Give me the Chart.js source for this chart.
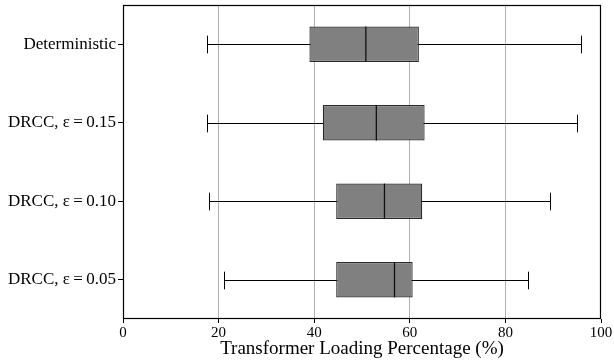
<!DOCTYPE html>
<html>
<head>
<meta charset="utf-8">
<script src="https://cdn.jsdelivr.net/npm/chart.js@4"></script>
<style>
  html, body { margin: 0; padding: 0; background: #fff; }
  #wrap { width: 614px; height: 360px; }
</style>
</head>
<body>
<div id="wrap"><canvas id="boxChart"></canvas></div>
<script>
// Box plot summary
const labels = ['Deterministic', 'DRCC, \u03b5\u2009=\u20090.15', 'DRCC, \u03b5\u2009=\u20090.10', 'DRCC, \u03b5\u2009=\u20090.05'];
const whiskerLow = [17.5, 17.5, 17.9, 21.2];
const q1 = [39.0, 41.8, 44.6, 44.6];
const median = [50.8, 53.0, 54.7, 56.8];
const q3 = [61.9, 63.1, 62.6, 60.6];
const whiskerHigh = [95.9, 95.0, 89.4, 84.7];
const xTicks = [0, 20, 40, 60, 80, 100];

// whiskers, caps, medians and the frame
const boxExtras = {
    id: 'boxExtras',
    beforeDatasetsDraw(chart) {
        const ctx = chart.ctx;
        const x = chart.scales.x;
        const y = chart.scales.y;
        const meta = chart.getDatasetMeta(0);
        ctx.save();
        ctx.strokeStyle = '#000';
        ctx.lineWidth = 1;
        labels.forEach((lab, i) => {
            const yc = Math.round(y.getPixelForValue(i)) + 0.5;
            const capH = meta.data[i].height / 2;
            const xl = Math.round(x.getPixelForValue(whiskerLow[i])) + 0.5;
            const xh = Math.round(x.getPixelForValue(whiskerHigh[i])) + 0.5;
            ctx.beginPath();
            ctx.moveTo(xl, yc); ctx.lineTo(xh, yc);
            ctx.moveTo(xl, yc - capH / 2); ctx.lineTo(xl, yc + capH / 2);
            ctx.moveTo(xh, yc - capH / 2); ctx.lineTo(xh, yc + capH / 2);
            ctx.stroke();
        });
        ctx.restore();
    },
    afterDatasetsDraw(chart) {
        const ctx = chart.ctx;
        const x = chart.scales.x;
        const y = chart.scales.y;
        const meta = chart.getDatasetMeta(0);
        ctx.save();
        ctx.strokeStyle = '#111';
        ctx.lineWidth = 1.3;
        labels.forEach((lab, i) => {
            const yc = y.getPixelForValue(i);
            const h = meta.data[i].height;
            const xm = x.getPixelForValue(median[i]);
            ctx.beginPath();
            ctx.moveTo(xm, yc - h / 2); ctx.lineTo(xm, yc + h / 2);
            ctx.stroke();
        });
        const a = chart.chartArea;
        ctx.strokeStyle = '#000';
        ctx.lineWidth = 1.2;
        ctx.strokeRect(Math.round(a.left) + 0.5, Math.round(a.top) + 0.5,
            Math.round(a.right - a.left) - 1, Math.round(a.bottom - a.top) - 1);
        ctx.restore();
    }
};

const ctx = document.getElementById('boxChart').getContext('2d');

new Chart(ctx, {
    type: 'bar',
    data: {
        labels: labels,
        datasets: [{
            label: 'IQR',
            data: labels.map((l, i) => [q1[i], q3[i]]),
            backgroundColor: '#808080',
            borderColor: '#2a2a2a',
            borderWidth: 1.2,
            borderSkipped: false,
            barPercentage: 0.45,
            categoryPercentage: 1.0
        }]
    },
    options: {
        indexAxis: 'y',
        responsive: true,
        maintainAspectRatio: false,
        animation: false,
        layout: { padding: { top: 5, right: 13, left: 0, bottom: 0 } },
        plugins: {
            legend: { display: false },
            tooltip: { enabled: false }
        },
        scales: {
            x: {
                type: 'linear',
                min: 0,
                max: 100,
                afterBuildTicks: (scale) => { scale.ticks = xTicks.map(v => ({ value: v })); },
                afterFit: (scale) => { scale.height = 41; },
                grid: {
                    color: (c) => (c.tick && (c.tick.value === 0 || c.tick.value === 100)) ? 'rgba(0,0,0,0)' : '#b0b0b0',
                    tickColor: '#000',
                    tickLength: 4
                },
                border: { display: false },
                ticks: {
                    color: '#000',
                    padding: 1,
                    font: { family: 'Liberation Serif', size: 15 }
                },
                title: {
                    display: true,
                    text: 'Transformer Loading Percentage (%)',
                    color: '#000',
                    padding: { top: 0, bottom: 0 },
                    font: { family: 'Liberation Serif', size: 19 }
                }
            },
            y: {
                afterFit: (scale) => {
                    scale.width = 123;
                    scale.paddingTop = 0;
                    scale.paddingBottom = 0;
                },
                grid: {
                    offset: false,
                    drawOnChartArea: false,
                    tickColor: '#000',
                    tickLength: 5
                },
                border: { display: false },
                ticks: {
                    color: '#000',
                    padding: 2,
                    font: { family: 'Liberation Serif', size: 17 }
                }
            }
        }
    },
    plugins: [boxExtras]
});
</script>
</body>
</html>
